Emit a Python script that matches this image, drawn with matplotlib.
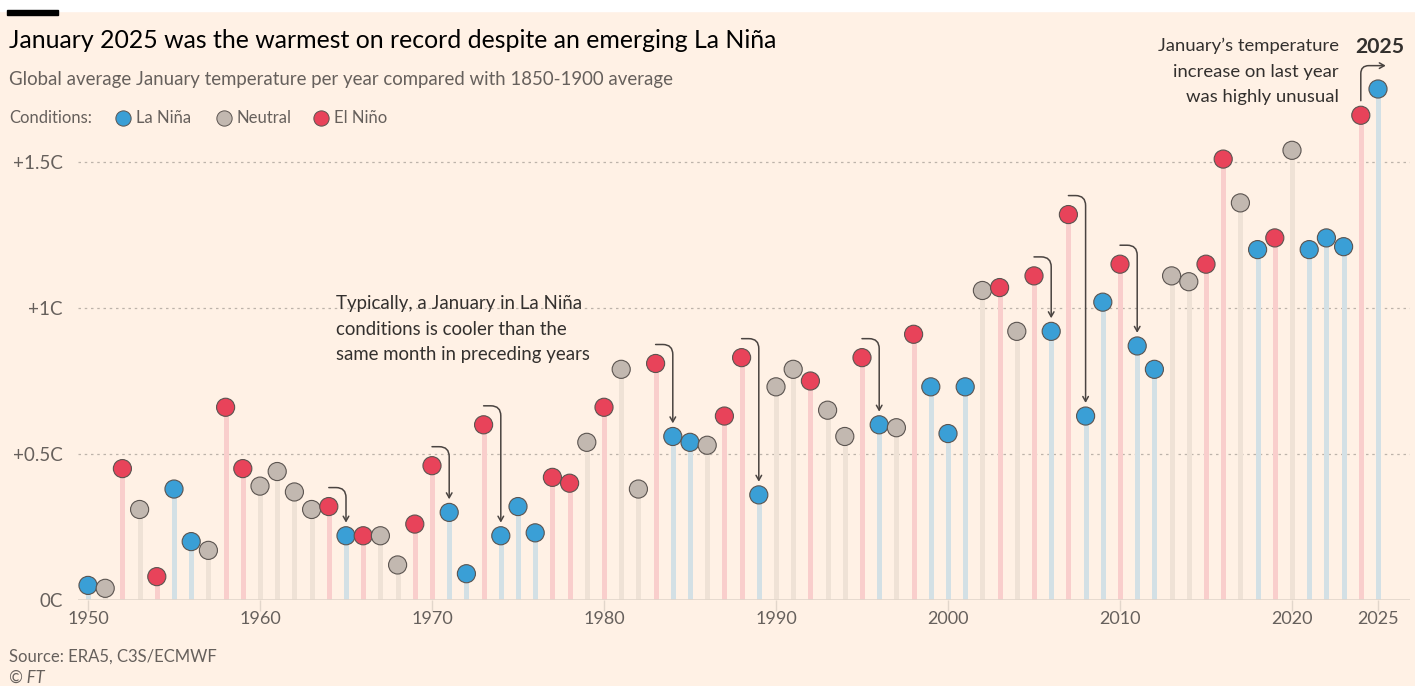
import matplotlib
matplotlib.use("Agg")
import matplotlib.pyplot as plt
from matplotlib.patches import Rectangle

plt.rcParams["font.family"] = ["Lato", "DejaVu Sans"]

# January anomaly vs 1850-1900 (C)
years = list(range(1950, 2026))
anomaly = [
    0.05, 0.04, 0.45, 0.31, 0.08, 0.38, 0.20, 0.17, 0.66, 0.45,  # 1950s
    0.39, 0.44, 0.37, 0.31, 0.32, 0.22, 0.22, 0.22, 0.12, 0.26,  # 1960s
    0.46, 0.30, 0.09, 0.60, 0.22, 0.32, 0.23, 0.42, 0.40, 0.54,  # 1970s
    0.66, 0.79, 0.38, 0.81, 0.56, 0.54, 0.53, 0.63, 0.83, 0.36,  # 1980s
    0.73, 0.79, 0.75, 0.65, 0.56, 0.83, 0.60, 0.59, 0.91, 0.73,  # 1990s
    0.57, 0.73, 1.06, 1.07, 0.92, 1.11, 0.92, 1.32, 0.63, 1.02,  # 2000s
    1.15, 0.87, 0.79, 1.11, 1.09, 1.15, 1.51, 1.36, 1.20, 1.24,  # 2010s
    1.54, 1.20, 1.24, 1.21, 1.66, 1.75,                          # 2020s
]
# L = La Nina, N = neutral, E = El Nino
condition = list(
    "LNENELLNEE"
    "NNNNELENNE"
    "ELLELLLEEN"
    "ENNELLNEEL"
    "NNENNELNEL"
    "LLNENELELL"
    "ELLNNEENLE"
    "NLLLEL"
)
# El Nino year -> following La Nina year that came in cooler
drops = [(1964, 1965), (1970, 1971), (1973, 1974), (1983, 1984), (1988, 1989),
         (1995, 1996), (2005, 2006), (2007, 2008), (2010, 2011)]

y_ticks = [0, 0.5, 1.0, 1.5]
y_labels = ["0C", "+0.5C", "+1C", "+1.5C"]
x_ticks = [1950, 1960, 1970, 1980, 1990, 2000, 2010, 2020, 2025]

BG = "#FFF1E5"
DARK = "#33302E"
GREY = "#66605C"
DOT = {"L": "#3A9FD6", "N": "#C2B8B0", "E": "#E8435A"}
STEM = {"L": "#D3E0E5", "N": "#EFE2D6", "E": "#F9CECC"}
LABEL = {"L": "La Niña", "N": "Neutral", "E": "El Niño"}

W, H = 1415, 686
fig = plt.figure(figsize=(W / 100, H / 100), dpi=100, facecolor=BG)


def fx(px):
    return px / W


def fy(py):
    return 1 - py / H


ax = fig.add_axes([fx(78), fy(600), fx(1410) - fx(78), fy(30) - fy(600)])
ax.set_facecolor(BG)
ax.set_xlim(1950 + (78 - 88) / 17.2, 1950 + (1410 - 88) / 17.2)
ax.set_ylim(0, 570 / 292)
for s in ax.spines.values():
    s.set_visible(False)

for v in y_ticks[1:]:
    ax.axhline(v, color="#BDB3AA", lw=0.9, ls=(0, (2, 3)), zorder=0)
ax.axhline(0, color="#E2D6CB", lw=1.2, zorder=2)

stem_colors = [STEM[c] for c in condition]
ax.vlines(years, 0, anomaly, colors=stem_colors, lw=3.6, zorder=1)
ax.scatter(years, anomaly, s=170, c=[DOT[c] for c in condition],
           edgecolors="#5B5450", linewidths=0.8, zorder=4, clip_on=False)

val = dict(zip(years, anomaly))
for a, b in drops:
    ax.annotate("", xy=(b, val[b] + 0.045), xytext=(a, val[a] + 0.065),
                arrowprops=dict(arrowstyle="->,head_length=0.35,head_width=0.2",
                                color="#4A4441", lw=1.1, shrinkA=0, shrinkB=0,
                                connectionstyle="angle,angleA=0,angleB=90,rad=10"),
                zorder=3)
ax.annotate("", xy=(2025.45, 1.83), xytext=(2024, 1.71),
            arrowprops=dict(arrowstyle="->,head_length=0.35,head_width=0.2",
                            color="#4A4441", lw=1.1, shrinkA=0, shrinkB=0,
                            connectionstyle="angle,angleA=90,angleB=0,rad=8"),
            annotation_clip=False, zorder=3)

ax.set_yticks(y_ticks)
ax.set_yticklabels(y_labels)
ax.tick_params(axis="y", length=0, pad=11, labelsize=13.5, labelcolor=GREY)
ax.set_xticks(x_ticks)
ax.tick_params(axis="x", length=8, width=1, color="#E2D6CB", pad=0,
               labelsize=13, labelcolor=GREY)

ax.text(1964.4, 1.045, "Typically, a January in La Niña\nconditions is cooler than the\n"
        "same month in preceding years", ha="left", va="top", fontsize=13.4,
        color=DARK, linespacing=1.62)

# header
fig.patches.append(Rectangle((0, fy(11)), 1, 1 - fy(11), transform=fig.transFigure,
                             color="white", zorder=0))
fig.patches.append(Rectangle((fx(7), fy(15)), fx(58) - fx(7), fy(10) - fy(15),
                             transform=fig.transFigure, color="black", zorder=1))
fig.text(fx(9), fy(48), "January 2025 was the warmest on record despite an emerging La Niña",
         fontsize=17.9, color="black", va="baseline")
fig.text(fx(9), fy(85), "Global average January temperature per year compared with 1850-1900 average",
         fontsize=13.4, color=GREY, va="baseline")
fig.text(fx(9), fy(123), "Conditions:", fontsize=12, color=GREY, va="baseline")
for code, x in [("L", 123), ("N", 224), ("E", 321)]:
    fig.add_artist(plt.Line2D([fx(x)], [fy(118)], marker="o", ms=11, color=DOT[code],
                              mec="#5B5450", mew=0.7, transform=fig.transFigure))
    fig.text(fx(x + 13), fy(123), LABEL[code], fontsize=12, color=GREY, va="baseline")

fig.text(fx(1339), fy(38), "January’s temperature\nincrease on last year\nwas highly unusual",
         fontsize=13.3, color=DARK, ha="right", va="top", linespacing=1.72)
fig.text(fx(1355), fy(53), "2025", fontsize=15.2, fontweight="bold", color=DARK,
         va="baseline")

fig.text(fx(9), fy(662), "Source: ERA5, C3S/ECMWF", fontsize=12, color=GREY, va="baseline")
fig.text(fx(9), fy(683), "© FT", fontsize=12, color=GREY, va="baseline", style="italic")

fig.savefig("out.png", dpi=100, facecolor=BG)
